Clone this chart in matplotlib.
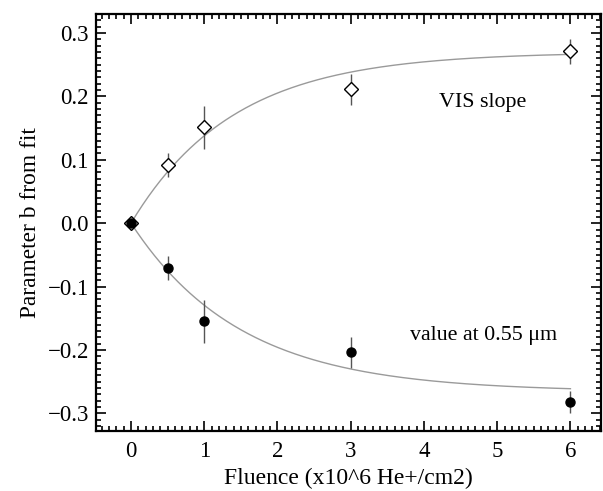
import numpy as np
import matplotlib.pyplot as plt
from matplotlib.ticker import MultipleLocator

plt.rcParams['font.family'] = ['Liberation Serif', 'DejaVu Serif']

# fluence (x10^6 He+/cm2)
fluence = [0, 0.5, 1, 3, 6]

# VIS slope (open diamonds)
vis_slope = [0.0, 0.092, 0.151, 0.211, 0.271]
vis_err = [0.0, 0.019, 0.034, 0.024, 0.020]

# value at 0.55 um (filled circles)
val_055 = [0.0, -0.070, -0.155, -0.204, -0.282]
val_err = [0.0, 0.019, 0.034, 0.024, 0.018]

# exponential saturation fits: b = amp * (1 - exp(-x / tau))
vis_fit_amp, vis_fit_tau = 0.270, 1.40
val_fit_amp, val_fit_tau = -0.266, 1.50

fig = plt.figure(figsize=(6.03, 4.91), dpi=100)
ax = fig.add_axes([0.159, 0.122, 0.838, 0.8495])

xf = np.linspace(0, max(fluence), 300)
ax.plot(xf, vis_fit_amp * (1 - np.exp(-xf / vis_fit_tau)), color='#9a9a9a', lw=1.0)
ax.plot(xf, val_fit_amp * (1 - np.exp(-xf / val_fit_tau)), color='#9a9a9a', lw=1.0)

ax.errorbar(fluence, vis_slope, yerr=vis_err, fmt='D', ms=7.5, mfc='white',
            mec='black', mew=1.0, ecolor='#555555', elinewidth=1.0, capsize=0, zorder=3)
ax.errorbar(fluence, val_055, yerr=val_err, fmt='o', ms=6.5, mfc='black',
            mec='black', ecolor='#555555', elinewidth=1.0, capsize=0, zorder=3)

ax.text(4.2, 0.19, 'VIS slope', fontsize=15.8, va='center', ha='left')
ax.text(3.81, -0.177, 'value at 0.55 \u03bcm', fontsize=15.8, va='center', ha='left')

ax.set_xlim(-0.48, 6.42)
ax.set_ylim(-0.328, 0.33)
ax.xaxis.set_major_locator(MultipleLocator(1))
ax.xaxis.set_minor_locator(MultipleLocator(0.1))
ax.yaxis.set_major_locator(MultipleLocator(0.1))
ax.yaxis.set_minor_locator(MultipleLocator(0.01))
ax.yaxis.set_major_formatter(plt.FuncFormatter(lambda v, p: f'{v:.1f}'.replace('-', '\u2212')))

ax.tick_params(which='both', direction='in', top=True, right=True, labelsize=16.5, width=1.2)
ax.tick_params(which='major', length=7)
ax.tick_params(which='minor', length=3.5)
ax.tick_params(axis='x', pad=7)
ax.tick_params(axis='y', pad=5)
for s in ax.spines.values():
    s.set_linewidth(1.6)

ax.set_xlabel('Fluence (x10^6 He+/cm2)', fontsize=17, labelpad=4)
ax.set_ylabel('Parameter b from fit', fontsize=16.8, labelpad=5)

fig.savefig('out.png', dpi=100)
